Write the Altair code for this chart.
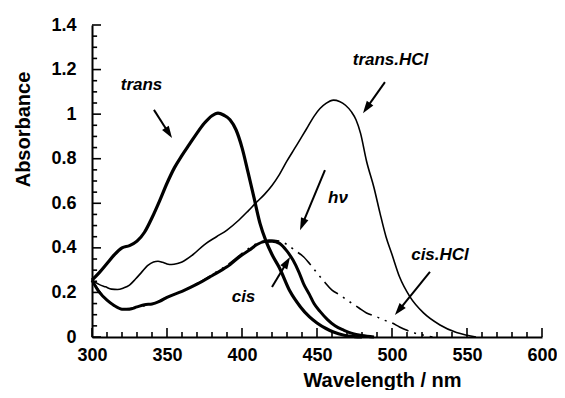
import math
import altair as alt
import pandas as pd

# ---------------- data ----------------
trans_wl = [300, 305, 310, 315, 320, 325, 330, 335, 340, 345, 350, 355, 360, 365, 370, 375,
            380, 384, 388, 392, 396, 400, 404, 408, 412, 416, 420, 425, 432, 439, 445, 450,
            456, 461, 468, 475, 480]
trans_A = [0.255, 0.29, 0.33, 0.37, 0.40, 0.41, 0.43, 0.47, 0.535, 0.61, 0.69, 0.76, 0.815,
           0.865, 0.915, 0.96, 0.993, 1.005, 0.995, 0.975, 0.93, 0.85, 0.74, 0.625, 0.51,
           0.43, 0.37, 0.31, 0.205, 0.135, 0.09, 0.063, 0.038, 0.022, 0.008, 0.002, 0.0]

cis_wl = [300, 305, 310, 315, 320, 325, 330, 335, 340, 345, 350, 360, 370, 380, 390, 400,
          405, 410, 415, 420, 425, 430, 434, 438, 441, 445, 448, 452, 457, 462, 468, 474,
          480, 488]
cis_A = [0.255, 0.20, 0.165, 0.14, 0.125, 0.125, 0.135, 0.145, 0.148, 0.16, 0.178, 0.205,
         0.237, 0.275, 0.315, 0.368, 0.39, 0.415, 0.428, 0.43, 0.42, 0.385, 0.345, 0.29,
         0.24, 0.19, 0.15, 0.115, 0.078, 0.05, 0.03, 0.015, 0.007, 0.0]

cishcl_wl = [300, 310, 320, 330, 340, 350, 360, 370, 380, 390, 400, 410, 418, 425, 430, 435,
             441, 445, 450, 455, 460, 465, 470, 478, 483, 490, 495, 500, 505, 510, 515, 520,
             527]
cishcl_A = [0.255, 0.165, 0.125, 0.135, 0.148, 0.178, 0.205, 0.24, 0.28, 0.322, 0.375,
            0.42, 0.435, 0.43, 0.415, 0.39, 0.36, 0.33, 0.287, 0.247, 0.21, 0.19, 0.166,
            0.13, 0.108, 0.09, 0.075, 0.063, 0.045, 0.03, 0.018, 0.01, 0.0]

transhcl_wl = [300, 305, 309, 313, 317, 321, 325, 329, 333, 337, 341, 344, 347, 350, 353,
               357, 360, 367, 375, 383, 390, 398, 404, 409, 415, 420, 425, 430, 435, 440,
               444, 448, 452, 456, 461, 465, 469, 473, 476, 479, 483, 488, 492, 496, 500,
               505, 512, 521, 532, 543, 550, 556]
transhcl_A = [0.255, 0.235, 0.225, 0.215, 0.213, 0.22, 0.233, 0.26, 0.29, 0.32, 0.337,
              0.34, 0.335, 0.328, 0.325, 0.33, 0.337, 0.368, 0.415, 0.45, 0.48, 0.525,
              0.565, 0.60, 0.64, 0.68, 0.73, 0.79, 0.845, 0.90, 0.945, 0.99, 1.025, 1.048,
              1.063, 1.057, 1.04, 1.01, 0.975, 0.915, 0.79, 0.67, 0.556, 0.45, 0.37, 0.27,
              0.18, 0.108, 0.054, 0.02, 0.008, 0.0]

x_ticks = [300, 350, 400, 450, 500, 550, 600]
x_minor = list(range(300, 601, 10))
y_ticks = [0, 0.2, 0.4, 0.6, 0.8, 1.0, 1.2, 1.4]
y_minor = [round(i * 0.05, 2) for i in range(29)]

label_text = ["trans", "trans.HCl", "hν", "cis", "cis.HCl"]
label_x = [333, 499, 464, 401, 532]
label_y = [1.13, 1.243, 0.624, 0.18, 0.368]

arrow_x1 = [341.3, 495.3, 455.3, 420.0, 525.3]
arrow_y1 = [1.019, 1.144, 0.749, 0.224, 0.292]
arrow_x2 = [353.3, 480.7, 438.7, 432.0, 502.0]
arrow_y2 = [0.893, 1.005, 0.480, 0.359, 0.099]

# ---------------- layout / style ----------------
W, H = 450, 312
XMIN, XMAX, YMIN, YMAX = 300, 600, 0.0, 1.4
FONT = "Liberation Sans"
HEAD = 6  # arrow head half-length in px

xs = alt.Scale(domain=[XMIN, XMAX], nice=False, zero=False)
ys = alt.Scale(domain=[YMIN, YMAX], nice=False, zero=False)

x_axis = alt.Axis(values=x_ticks, ticks=False, tickSize=0, grid=False, domainColor="black",
                  domainWidth=2, labelFont=FONT, labelFontSize=18, labelFontWeight="bold",
                  labelColor="black", labelPadding=9, labelFlush=False,
                  title="Wavelength / nm", titleFont=FONT, titleFontSize=20,
                  titleFontWeight="bold", titleColor="black", titleX=290, titleY=43,
                  titleBaseline="middle", titleAlign="center")
y_axis = alt.Axis(values=y_ticks, ticks=False, tickSize=0, grid=False, domainColor="black",
                  domainWidth=2, labelFont=FONT, labelFontSize=18, labelFontWeight="bold",
                  labelColor="black", labelPadding=16, labelFlush=False,
                  labelExpr="format(datum.value, '~g')",
                  title="Absorbance", titleFont=FONT, titleFontSize=20,
                  titleFontWeight="bold", titleColor="black", titleX=-69, titleY=104,
                  titleBaseline="middle", titleAlign="center", titleAngle=270)

X = alt.X("x:Q", scale=xs, axis=x_axis)
Y = alt.Y("y:Q", scale=ys, axis=y_axis)


def line_df(wl, a):
    return pd.DataFrame({"x": wl, "y": a})


transhcl = alt.Chart(line_df(transhcl_wl, transhcl_A)).mark_line(
    color="black", strokeWidth=1.6, interpolate="monotone").encode(x=X, y=Y)
cishcl = alt.Chart(line_df(cishcl_wl, cishcl_A)).mark_line(
    color="black", strokeWidth=1.6, interpolate="monotone",
    strokeDash=[18, 6, 2, 6, 2, 6]).encode(x=X, y=Y)
cis = alt.Chart(line_df(cis_wl, cis_A)).mark_line(
    color="black", strokeWidth=3, interpolate="monotone").encode(x=X, y=Y)
trans = alt.Chart(line_df(trans_wl, trans_A)).mark_line(
    color="black", strokeWidth=3.2, interpolate="monotone").encode(x=X, y=Y)

# inward tick marks
tick_rows = []
for v in x_minor:
    ln = 0.04 if v % 50 == 0 else 0.022
    tick_rows.append({"x": v, "x2": v, "y": 0.0, "y2": ln})
for v in y_minor:
    major = abs(v / 0.2 - round(v / 0.2)) < 1e-6
    tick_rows.append({"x": XMIN, "x2": XMIN + (6 if major else 3.4), "y": v, "y2": v})
ticks = alt.Chart(pd.DataFrame(tick_rows)).mark_rule(color="black", strokeWidth=1.6).encode(
    x=X, y=Y, x2="x2:Q", y2="y2:Q")

# labels
labels = alt.Chart(pd.DataFrame({"x": label_x, "y": label_y, "t": label_text})).mark_text(
    font=FONT, fontSize=17, fontWeight="bold", fontStyle="italic", color="black",
    align="center", baseline="middle").encode(x=X, y=Y, text="t:N")

# arrows
pxx = W / (XMAX - XMIN)
pxy = H / (YMAX - YMIN)
rows = []
for x1, y1, x2, y2 in zip(arrow_x1, arrow_y1, arrow_x2, arrow_y2):
    dx = (x2 - x1) * pxx
    dy = -(y2 - y1) * pxy
    L = math.hypot(dx, dy)
    ux, uy = dx / L, dy / L
    hx = x2 - HEAD * ux / pxx
    hy = y2 + HEAD * uy / pxy
    ang = math.degrees(math.atan2(ux, -uy)) % 360
    rows.append({"x": x1, "y": y1, "x2": hx, "y2": hy, "hx": hx, "hy": hy, "angle": ang})
adf = pd.DataFrame(rows)
shafts = alt.Chart(adf).mark_rule(color="black", strokeWidth=2).encode(
    x=X, y=Y, x2="x2:Q", y2="y2:Q")
heads = alt.Chart(adf).mark_point(
    shape="M0,-1L0.65,1L-0.65,1Z", filled=True, color="black", opacity=1, size=150,
    strokeWidth=0).encode(
    x=alt.X("hx:Q", scale=xs, axis=x_axis), y=alt.Y("hy:Q", scale=ys, axis=y_axis),
    angle=alt.Angle("angle:Q", scale=None))

chart = alt.layer(transhcl, cishcl, cis, trans, ticks, labels, shafts, heads).properties(
    width=W, height=H,
    autosize=alt.AutoSizeParams(type="none"),
    padding={"left": 84, "top": 17, "right": 15, "bottom": 53},
    background="white",
).configure_view(stroke=None)

chart.save("out.html", embed_options={"renderer": "svg", "actions": False})
